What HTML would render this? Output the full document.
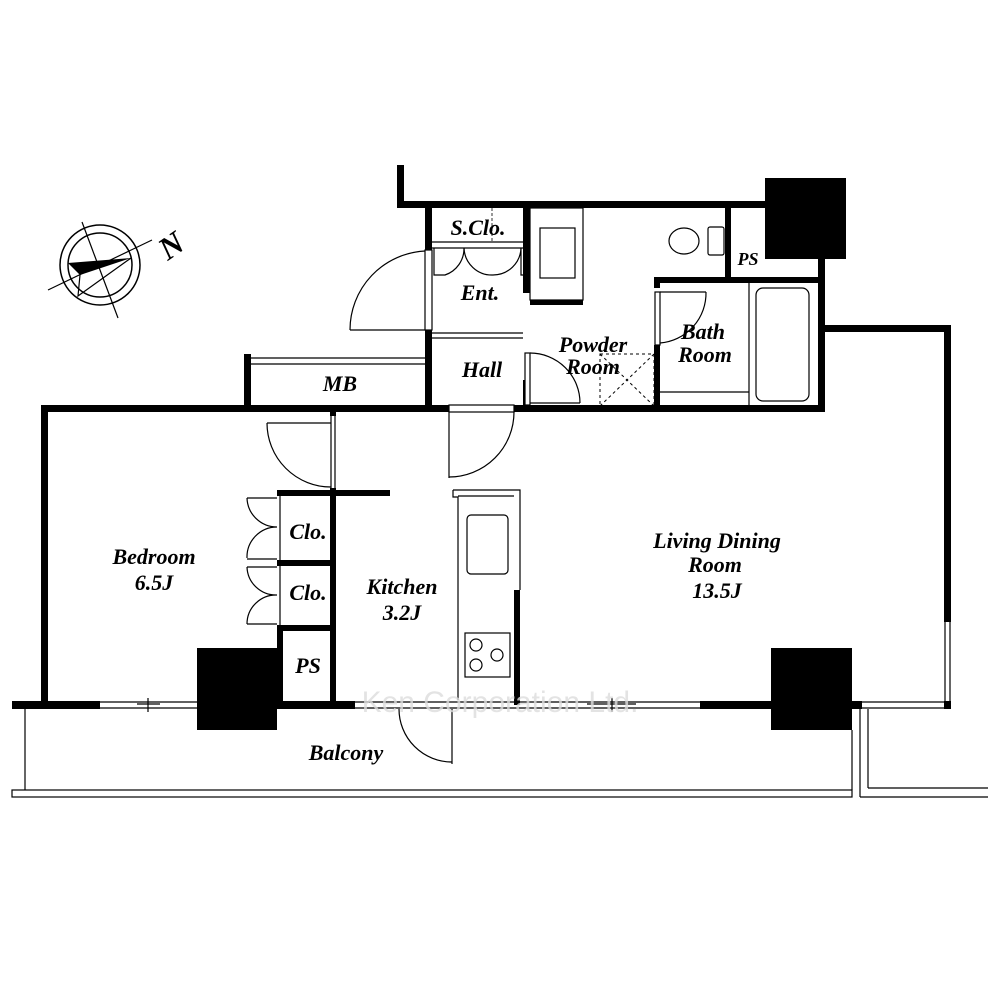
<!DOCTYPE html>
<html><head><meta charset="utf-8"><style>
html,body{margin:0;padding:0;background:#fff}
svg{display:block}
text{font-family:"Liberation Serif",serif;font-weight:bold;font-style:italic;fill:#000}
</style></head><body>
<svg width="1000" height="1000" viewBox="0 0 1000 1000" xmlns="http://www.w3.org/2000/svg">
<rect width="1000" height="1000" fill="#fff"/>
<g fill="#000">
<rect x="397" y="165" width="7" height="43"/>
<rect x="397" y="201" width="370" height="7"/>
<rect x="765" y="178" width="81" height="81"/>
<rect x="818" y="259" width="7" height="73"/>
<rect x="818" y="325" width="133" height="7"/>
<rect x="944" y="325" width="7" height="297"/>
<rect x="425" y="208" width="7" height="42"/>
<rect x="425" y="330" width="7" height="82"/>
<rect x="523" y="208" width="7" height="85"/>
<rect x="523" y="380" width="7" height="32"/>
<rect x="530" y="300" width="53" height="5"/>
<rect x="725" y="208" width="6" height="72"/>
<rect x="654" y="277" width="171" height="6"/>
<rect x="654" y="277" width="6" height="11"/>
<rect x="654" y="345" width="6" height="67"/>
<rect x="425" y="405" width="24" height="7"/>
<rect x="514" y="405" width="311" height="7"/>
<rect x="818" y="325" width="7" height="87"/>
<rect x="41" y="405" width="7" height="300"/>
<rect x="41" y="405" width="384" height="7"/>
<rect x="244" y="354" width="7" height="58"/>
<rect x="330" y="412" width="6" height="4"/>
<rect x="330" y="488" width="6" height="217"/>
<rect x="277" y="490" width="113" height="6"/>
<rect x="277" y="490" width="6" height="4"/>
<rect x="277" y="560" width="59" height="6"/>
<rect x="277" y="625" width="59" height="6"/>
<rect x="277" y="626" width="6" height="80"/>
<rect x="197" y="648" width="80" height="82"/>
<rect x="771" y="648" width="81" height="82"/>
<rect x="12" y="701" width="88" height="8"/>
<rect x="197" y="701" width="158" height="8"/>
<rect x="700" y="701" width="71" height="8"/>
<rect x="852" y="701" width="10" height="8"/>
<rect x="944" y="701" width="7" height="8"/>
<rect x="514" y="590" width="6" height="115"/>
</g>
<g fill="none" stroke="#000" stroke-width="1.2">
<line x1="100" y1="702" x2="197" y2="702"/><line x1="100" y1="708" x2="197" y2="708"/>
<line x1="137" y1="704" x2="160" y2="704"/><line x1="148" y1="698" x2="148" y2="712"/>
<line x1="355" y1="702" x2="700" y2="702"/><line x1="355" y1="708" x2="700" y2="708"/>
<line x1="587" y1="704" x2="636" y2="704"/><line x1="612" y1="698" x2="612" y2="712"/>
<line x1="862" y1="702" x2="944" y2="702"/><line x1="862" y1="708" x2="944" y2="708"/>
<line x1="945" y1="622" x2="945" y2="701"/><line x1="950" y1="622" x2="950" y2="701"/>
<line x1="25" y1="709" x2="25" y2="790"/>
<rect x="12" y="790" width="840" height="7"/>
<line x1="852" y1="730" x2="852" y2="790"/>
<line x1="860" y1="709" x2="860" y2="797"/>
<line x1="868" y1="709" x2="868" y2="788"/>
<line x1="868" y1="788" x2="988" y2="788"/>
<line x1="860" y1="797" x2="988" y2="797"/>
<line x1="452" y1="709" x2="452" y2="764"/>
<path d="M399,709 A53,53 0 0 0 452,762"/>
<line x1="350" y1="330" x2="425" y2="330"/>
<path d="M425,251 A79,79 0 0 0 350,330"/>
<rect x="425" y="250" width="7" height="80" fill="#fff"/>
<line x1="432" y1="242" x2="523" y2="242"/><line x1="432" y1="248" x2="523" y2="248"/>
<line x1="492" y1="208" x2="492" y2="242" stroke-dasharray="3,2" stroke-width="0.8"/>
<path d="M434,248 V275 H445 A28,28 0 0 0 464,248"/>
<path d="M464,248 A28,28 0 0 0 493,275 A28,28 0 0 0 521,248 V275 H523"/>
<line x1="432" y1="333" x2="523" y2="333"/><line x1="432" y1="338" x2="523" y2="338"/>
<line x1="251" y1="358" x2="425" y2="358"/><line x1="251" y1="364" x2="425" y2="364"/>
<rect x="530" y="208" width="53" height="92"/>
<rect x="540" y="228" width="35" height="50"/>
<ellipse cx="684" cy="241" rx="15" ry="13"/>
<rect x="708" y="227" width="16" height="28" rx="2"/>
<rect x="525" y="353" width="5" height="52" fill="#fff"/>
<path d="M530,353 A50,50 0 0 1 580,403"/>
<line x1="530" y1="403" x2="580" y2="403"/>
<g stroke-dasharray="3,3" stroke-width="1"><rect x="600" y="354" width="54" height="52"/><line x1="600" y1="406" x2="654" y2="354"/><line x1="600" y1="354" x2="654" y2="406"/></g>
<line x1="660" y1="292" x2="706" y2="292"/>
<path d="M706,292 A50,50 0 0 1 660,343"/>
<rect x="655" y="292" width="5" height="53" fill="#fff"/>
<line x1="749" y1="283" x2="749" y2="405"/>
<line x1="660" y1="392" x2="749" y2="392"/>
<rect x="756" y="288" width="53" height="113" rx="7"/>
<rect x="449" y="405" width="65" height="7" fill="#fff"/>
<line x1="449" y1="412" x2="449" y2="478"/>
<path d="M514,412 A65,65 0 0 1 449,477"/>
<line x1="331" y1="416" x2="331" y2="488"/><line x1="335" y1="416" x2="335" y2="488"/>
<line x1="267" y1="423" x2="331" y2="423"/>
<path d="M267,423 A64,64 0 0 0 331,487"/>
<line x1="280" y1="496" x2="280" y2="625"/>
<line x1="247" y1="498" x2="277" y2="498"/><line x1="247" y1="559" x2="277" y2="559"/>
<path d="M247,498 A30,30 0 0 0 277,527 A30,30 0 0 0 247,558"/>
<line x1="247" y1="567" x2="277" y2="567"/><line x1="247" y1="624" x2="277" y2="624"/>
<path d="M247,567 A29,29 0 0 0 277,595 A29,29 0 0 0 247,624"/>
<path d="M453,490 H520 V590 M458,496 H514 M453,490 V497 H458 V700"/>
<rect x="467" y="515" width="41" height="59" rx="4"/>
<rect x="465" y="633" width="45" height="44"/>
<circle cx="476" cy="645" r="6"/><circle cx="497" cy="655" r="6"/><circle cx="476" cy="665" r="6"/>
<circle cx="100" cy="265" r="40" stroke-width="1.5"/>
<circle cx="100" cy="265" r="32" stroke-width="1.5"/>
<line x1="48" y1="290" x2="152" y2="240"/>
<line x1="82" y1="222" x2="118" y2="318"/>
</g>
<polygon points="68,263 131,258 80,275" fill="#000"/>
<polyline points="80,275 78,296 131,258" fill="none" stroke="#000" stroke-width="1.2"/>
<text x="160" y="254" font-size="32" transform="rotate(-35 175 245)">N</text>
<g font-size="22" text-anchor="middle">
<text x="478" y="235">S.Clo.</text>
<text x="480" y="300">Ent.</text>
<text x="482" y="377">Hall</text>
<text x="340" y="391">MB</text>
<text x="593" y="352">Powder</text>
<text x="593" y="374">Room</text>
<text x="703" y="339">Bath</text>
<text x="705" y="362">Room</text>
<text x="748" y="265" font-size="18">PS</text>
<text x="154" y="564">Bedroom</text>
<text x="154" y="590">6.5J</text>
<text x="308" y="539">Clo.</text>
<text x="308" y="600">Clo.</text>
<text x="308" y="673">PS</text>
<text x="402" y="594">Kitchen</text>
<text x="402" y="620">3.2J</text>
<text x="717" y="548">Living Dining</text>
<text x="715" y="572">Room</text>
<text x="717" y="598">13.5J</text>
<text x="346" y="760">Balcony</text>
</g>
<text x="500" y="712" font-size="30" text-anchor="middle" style="font-family:'Liberation Sans',sans-serif;font-style:normal;font-weight:normal;fill:#ddd;opacity:0.8">Ken Corporation Ltd.</text>
</svg>
</body></html>
